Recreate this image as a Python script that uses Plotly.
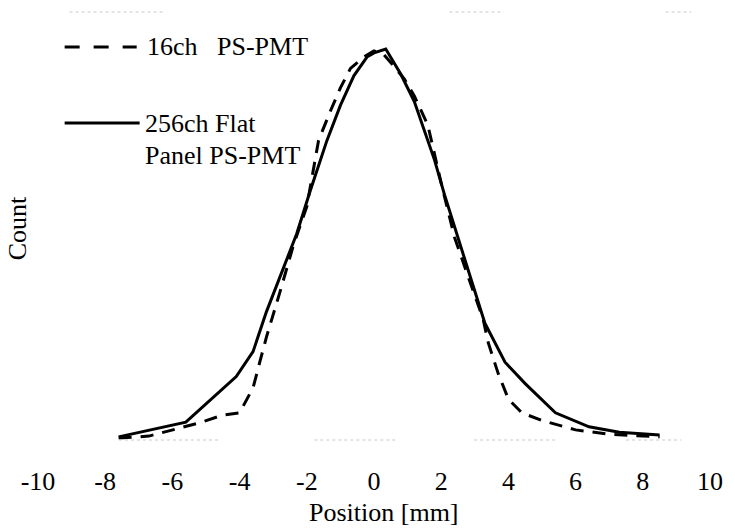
import plotly.graph_objects as go

# 16ch PS-PMT (dashed)
pos_16ch = [-7.6, -6.7, -5.2, -4.5, -4.0, -3.6, -3.4, -3.2, -2.8, -2.4, -2.0, -1.65, -1.3, -1.0,
            -0.7, -0.3, 0.0, 0.3, 0.6, 0.9, 1.2, 1.6, 2.0, 2.4, 2.8, 3.25, 3.4, 3.7, 4.0, 4.4,
            5.0, 6.0, 7.0, 8.5]
cnt_16ch = [0.005, 0.01, 0.044, 0.064, 0.07, 0.134, 0.2, 0.265, 0.38, 0.50, 0.60, 0.77, 0.845, 0.905,
            0.955, 0.985, 1.0, 0.99, 0.96, 0.928, 0.884, 0.81, 0.66, 0.52, 0.42, 0.31, 0.25, 0.17,
            0.105, 0.07, 0.05, 0.026, 0.015, 0.008]

# 256ch Flat Panel PS-PMT (solid)
pos_256ch = [-7.6, -5.6, -4.1, -3.6, -3.2, -2.8, -2.3, -1.9, -1.4, -1.0, -0.6, -0.2, 0.0, 0.35,
             0.8, 1.2, 1.8, 2.1, 2.5, 2.9, 3.3, 3.9, 4.5, 5.4, 6.4, 7.3, 8.5]
cnt_256ch = [0.008, 0.046, 0.163, 0.227, 0.33, 0.42, 0.53, 0.64, 0.77, 0.86, 0.936, 0.985, 0.995, 1.005,
             0.94, 0.87, 0.72, 0.63, 0.52, 0.41, 0.30, 0.20, 0.145, 0.07, 0.034, 0.02, 0.013]

x_ticks = [-10, -8, -6, -4, -2, 0, 2, 4, 6, 8, 10]

FONT = "Liberation Serif, Times New Roman, serif"

fig = go.Figure()
fig.add_trace(go.Scatter(x=pos_16ch, y=cnt_16ch, mode="lines", name="16ch  PS-PMT",
                         line=dict(color="black", width=3, dash="13px,9px")))
fig.add_trace(go.Scatter(x=pos_256ch, y=cnt_256ch, mode="lines", name="256ch Flat Panel PS-PMT",
                         line=dict(color="black", width=3)))

W, H = 735, 530
L, R, T, B = 38, 16, 12, 90
pw, ph = W - L - R, H - T - B


def px(xp):
    return (xp - L) / pw


def py(yp):
    return (H - B - yp) / ph


shapes = [
    dict(type="line", xref="paper", yref="paper", x0=px(65), x1=px(138), y0=py(47), y1=py(47),
         line=dict(color="black", width=3, dash="15px,14px")),
    dict(type="line", xref="paper", yref="paper", x0=px(65), x1=px(141), y0=py(123), y1=py(123),
         line=dict(color="black", width=3)),
]
# faint dotted frame remnants (scan artefacts)
for (a, b) in [(120, 223), (318, 400), (480, 564), (634, 690)]:
    shapes.append(dict(type="line", xref="paper", yref="paper", x0=px(a), x1=px(b), y0=0, y1=0,
                       line=dict(color="#c8c8c8", width=1, dash="dot")))
for (a, b) in [(70, 165), (455, 510), (674, 700)]:
    shapes.append(dict(type="line", xref="paper", yref="paper", x0=px(a), x1=px(b), y0=1, y1=1,
                       line=dict(color="#c8c8c8", width=1, dash="dot")))

annotations = [
    dict(text="16ch&nbsp;&nbsp;&nbsp;PS-PMT", xref="paper", yref="paper", x=px(146), y=py(47),
         xanchor="left", yanchor="middle", showarrow=False, font=dict(size=26, family=FONT, color="black")),
    dict(text="256ch Flat", xref="paper", yref="paper", x=px(144), y=py(123),
         xanchor="left", yanchor="middle", showarrow=False, font=dict(size=26, family=FONT, color="black")),
    dict(text="Panel PS-PMT", xref="paper", yref="paper", x=px(144), y=py(155),
         xanchor="left", yanchor="middle", showarrow=False, font=dict(size=26, family=FONT, color="black")),
    dict(text="Position [mm]", xref="x", yref="paper", x=0.3, y=py(512),
         xanchor="center", yanchor="middle", showarrow=False, font=dict(size=26, family=FONT, color="black")),
    dict(text="Count", xref="paper", yref="paper", x=px(17), y=py(228), textangle=-90,
         xanchor="center", yanchor="middle", showarrow=False, font=dict(size=26, family=FONT, color="black")),
]

fig.update_layout(
    width=W, height=H,
    margin=dict(l=L, r=R, t=T, b=B, pad=0),
    paper_bgcolor="white", plot_bgcolor="white",
    showlegend=False,
    font=dict(family=FONT, size=26, color="black"),
    shapes=shapes,
    annotations=annotations,
    xaxis=dict(range=[-10, 10], tickvals=x_ticks, ticktext=[str(v) for v in x_ticks],
               showgrid=False, zeroline=False, showline=False,
               ticks="outside", ticklen=18, tickcolor="rgba(0,0,0,0)",
               tickfont=dict(size=26, family=FONT, color="black")),
    yaxis=dict(range=[0, 1.1], showticklabels=False, showgrid=False, zeroline=False,
               showline=False, ticks=""),
)

fig.write_html(
    "out.html",
    config={"displayModeBar": False},
    post_script="document.body.style.margin='0';document.body.style.overflow='hidden';",
)
